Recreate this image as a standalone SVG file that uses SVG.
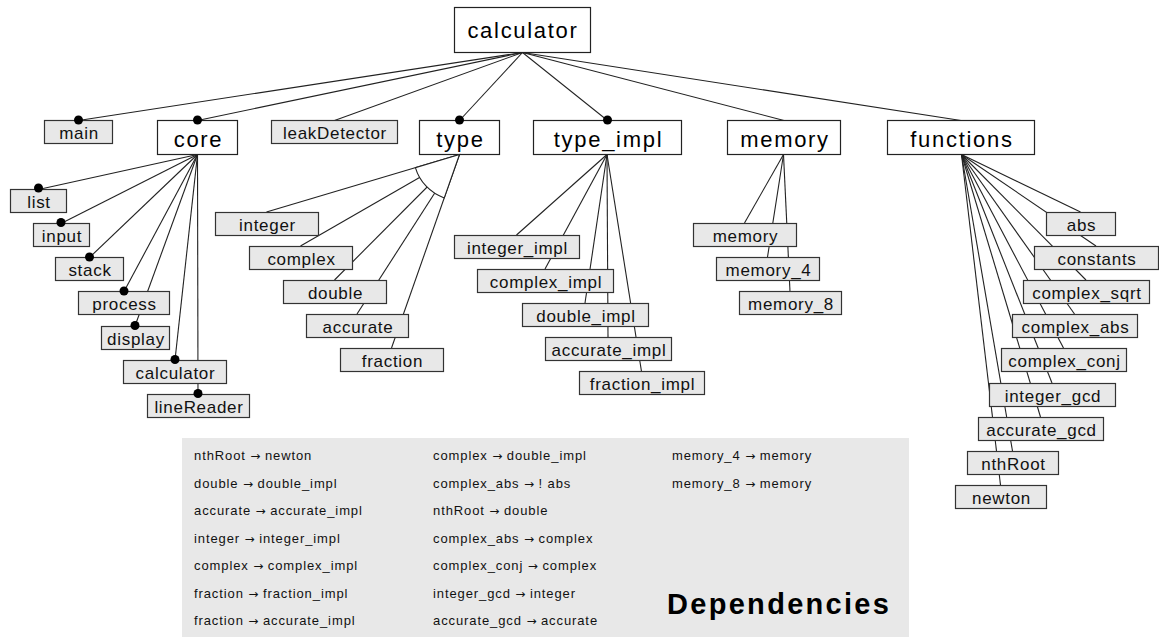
<svg xmlns="http://www.w3.org/2000/svg" width="1159" height="637" viewBox="0 0 1159 637">
<style>
.bg{fill:#ffffff}
.big{fill:#ffffff;stroke:#222;stroke-width:1.2}
.sm{fill:#e8e8e8;stroke:#333;stroke-width:1.2}
.bt{font-family:"Liberation Sans",Arial,sans-serif;font-size:22px;letter-spacing:1.7px;fill:#000;text-anchor:middle}
.st{font-family:"Liberation Sans",Arial,sans-serif;font-size:17px;letter-spacing:0.7px;fill:#111;text-anchor:middle}
.dot{fill:#000}
.con line{stroke:#222;stroke-width:1.1}
.wedge{fill:#fff;stroke:#222;stroke-width:1.1}
.dep{fill:#e8e8e8}
.dt{font-family:"Liberation Sans",Arial,sans-serif;font-size:13px;letter-spacing:0.9px;fill:#111}
.ar{font-family:"DejaVu Sans",sans-serif;font-size:12px;letter-spacing:0}
.title{font-family:"Liberation Sans",Arial,sans-serif;font-size:29px;font-weight:bold;letter-spacing:2.3px;fill:#000}
</style>
<rect class="bg" x="0" y="0" width="1159" height="637"/>
<g id="connectors" class="con">
<line x1="522.5" y1="52.5" x2="78.5" y2="120.5"/>
<line x1="522.5" y1="52.5" x2="197.5" y2="120.5"/>
<line x1="522.5" y1="52.5" x2="334.5" y2="120.5"/>
<line x1="522.5" y1="52.5" x2="459.5" y2="120.5"/>
<line x1="522.5" y1="52.5" x2="607.5" y2="120.5"/>
<line x1="522.5" y1="52.5" x2="784" y2="120.5"/>
<line x1="522.5" y1="52.5" x2="961" y2="120.5"/>
<line x1="197.5" y1="154.5" x2="38.5" y2="189.5"/>
<line x1="197.5" y1="154.5" x2="61" y2="223.5"/>
<line x1="197.5" y1="154.5" x2="89.5" y2="257.5"/>
<line x1="197.5" y1="154.5" x2="124" y2="291.5"/>
<line x1="197.5" y1="154.5" x2="135" y2="326"/>
<line x1="197.5" y1="154.5" x2="175" y2="360"/>
<line x1="197.5" y1="154.5" x2="198" y2="394"/>
<line x1="459.5" y1="154.5" x2="266.5" y2="212"/>
<line x1="459.5" y1="154.5" x2="300.5" y2="246"/>
<line x1="459.5" y1="154.5" x2="334.5" y2="280"/>
<line x1="459.5" y1="154.5" x2="357" y2="314"/>
<line x1="459.5" y1="154.5" x2="391.5" y2="348"/>
<line x1="607" y1="154.5" x2="516.5" y2="235"/>
<line x1="607" y1="154.5" x2="545" y2="269"/>
<line x1="607" y1="154.5" x2="585" y2="303"/>
<line x1="607" y1="154.5" x2="608" y2="337"/>
<line x1="607" y1="154.5" x2="641.5" y2="371.5"/>
<line x1="783.5" y1="154.5" x2="744.5" y2="223"/>
<line x1="783.5" y1="154.5" x2="767.5" y2="257"/>
<line x1="783.5" y1="154.5" x2="790" y2="291.5"/>
<line x1="961.5" y1="154.5" x2="1080.5" y2="212"/>
<line x1="961.5" y1="154.5" x2="1096" y2="246"/>
<line x1="961.5" y1="154.5" x2="1086" y2="280"/>
<line x1="961.5" y1="154.5" x2="1074.5" y2="314"/>
<line x1="961.5" y1="154.5" x2="1063.5" y2="348"/>
<line x1="961.5" y1="154.5" x2="1052" y2="383"/>
<line x1="961.5" y1="154.5" x2="1040.5" y2="417"/>
<line x1="961.5" y1="154.5" x2="1012.5" y2="451"/>
<line x1="961.5" y1="154.5" x2="1000.5" y2="485"/>
</g>
<g id="n-calculator"><rect class="big" x="454.5" y="7.5" width="136" height="45"/><text class="bt" x="523" y="38">calculator</text></g>
<g id="n-main"><rect class="sm" x="44.5" y="120.5" width="68" height="23"/><text class="st" x="79" y="138.5">main</text><circle class="dot" cx="78.5" cy="120" r="4.5"/></g>
<g id="n-core"><rect class="big" x="157.5" y="120.5" width="80" height="34"/><text class="bt" x="198.5" y="146.5">core</text><circle class="dot" cx="197.5" cy="120" r="4.5"/></g>
<g id="n-leakDetector"><rect class="sm" x="271.5" y="120.5" width="126" height="23"/><text class="st" x="335" y="138.5">leakDetector</text></g>
<g id="n-type"><rect class="big" x="419.5" y="120.5" width="80" height="34"/><text class="bt" x="460.5" y="146.5">type</text><circle class="dot" cx="459.5" cy="120" r="4.5"/></g>
<g id="n-type_impl"><rect class="big" x="533.5" y="120.5" width="148" height="34"/><text class="bt" x="608.5" y="146.5">type_impl</text><circle class="dot" cx="607.5" cy="120" r="4.5"/></g>
<g id="n-memory"><rect class="big" x="727.5" y="120.5" width="113" height="34"/><text class="bt" x="785" y="146.5">memory</text></g>
<g id="n-functions"><rect class="big" x="887.5" y="120.5" width="147" height="34"/><text class="bt" x="962" y="146.5">functions</text></g>
<g id="n-list"><rect class="sm" x="10.5" y="189.5" width="56" height="23"/><text class="st" x="39" y="207.5">list</text><circle class="dot" cx="38.5" cy="188" r="4.5"/></g>
<g id="n-input"><rect class="sm" x="33.5" y="223.5" width="56" height="23"/><text class="st" x="62" y="241.5">input</text><circle class="dot" cx="61" cy="222.5" r="4.5"/></g>
<g id="n-stack"><rect class="sm" x="55.5" y="257.5" width="68" height="23"/><text class="st" x="90" y="275.5">stack</text><circle class="dot" cx="89.5" cy="257" r="4.5"/></g>
<g id="n-process"><rect class="sm" x="78.5" y="291.5" width="91" height="23"/><text class="st" x="124.5" y="309.5">process</text><circle class="dot" cx="124" cy="291" r="4.5"/></g>
<g id="n-display"><rect class="sm" x="101.5" y="326.5" width="68" height="23"/><text class="st" x="136" y="344.5">display</text><circle class="dot" cx="135" cy="325.5" r="4.5"/></g>
<g id="n-calculator2"><rect class="sm" x="123.5" y="360.5" width="103" height="23"/><text class="st" x="175.5" y="378.5">calculator</text><circle class="dot" cx="175" cy="359.5" r="4.5"/></g>
<g id="n-lineReader"><rect class="sm" x="147.5" y="394.5" width="102" height="23"/><text class="st" x="199" y="412.5">lineReader</text><circle class="dot" cx="198" cy="393.5" r="4.5"/></g>
<g id="n-integer"><rect class="sm" x="215.5" y="212.5" width="103" height="23"/><text class="st" x="267.5" y="230.5">integer</text></g>
<g id="n-complex"><rect class="sm" x="249.5" y="246.5" width="103" height="23"/><text class="st" x="301.5" y="264.5">complex</text></g>
<g id="n-double"><rect class="sm" x="283.5" y="280.5" width="103" height="23"/><text class="st" x="335.5" y="298.5">double</text></g>
<g id="n-accurate"><rect class="sm" x="306.5" y="314.5" width="102" height="23"/><text class="st" x="358" y="332.5">accurate</text></g>
<g id="n-fraction"><rect class="sm" x="340.5" y="348.5" width="103" height="23"/><text class="st" x="392.5" y="366.5">fraction</text></g>
<g id="alt-group-type"><path class="wedge" d="M459.5,154.5 L415.4,167.6 A46,46 0 0 0 444.25,197.9 Z"/></g>
<g id="n-integer_impl"><rect class="sm" x="454.5" y="235.5" width="125" height="23"/><text class="st" x="517.5" y="253.5">integer_impl</text></g>
<g id="n-complex_impl"><rect class="sm" x="477.5" y="269.5" width="136" height="23"/><text class="st" x="546" y="287.5">complex_impl</text></g>
<g id="n-double_impl"><rect class="sm" x="522.5" y="303.5" width="126" height="23"/><text class="st" x="586" y="321.5">double_impl</text></g>
<g id="n-accurate_impl"><rect class="sm" x="545.5" y="337.5" width="126" height="23"/><text class="st" x="609" y="355.5">accurate_impl</text></g>
<g id="n-fraction_impl"><rect class="sm" x="579.5" y="371.5" width="125" height="23"/><text class="st" x="642.5" y="389.5">fraction_impl</text></g>
<g id="n-memory_1"><rect class="sm" x="693.5" y="223.5" width="103" height="23"/><text class="st" x="745.5" y="241.5">memory</text></g>
<g id="n-memory_4"><rect class="sm" x="716.5" y="257.5" width="103" height="23"/><text class="st" x="768.5" y="275.5">memory_4</text></g>
<g id="n-memory_8"><rect class="sm" x="739.5" y="291.5" width="102" height="23"/><text class="st" x="791" y="309.5">memory_8</text></g>
<g id="n-abs"><rect class="sm" x="1046.5" y="212.5" width="69" height="23"/><text class="st" x="1081.5" y="230.5">abs</text></g>
<g id="n-constants"><rect class="sm" x="1034.5" y="246.5" width="124" height="23"/><text class="st" x="1097" y="264.5">constants</text></g>
<g id="n-complex_sqrt"><rect class="sm" x="1023.5" y="280.5" width="126" height="23"/><text class="st" x="1087" y="298.5">complex_sqrt</text></g>
<g id="n-complex_abs"><rect class="sm" x="1012.5" y="314.5" width="125" height="23"/><text class="st" x="1075.5" y="332.5">complex_abs</text></g>
<g id="n-complex_conj"><rect class="sm" x="1001.5" y="348.5" width="125" height="23"/><text class="st" x="1064.5" y="366.5">complex_conj</text></g>
<g id="n-integer_gcd"><rect class="sm" x="989.5" y="383.5" width="126" height="23"/><text class="st" x="1053" y="401.5">integer_gcd</text></g>
<g id="n-accurate_gcd"><rect class="sm" x="978.5" y="417.5" width="125" height="23"/><text class="st" x="1041.5" y="435.5">accurate_gcd</text></g>
<g id="n-nthRoot"><rect class="sm" x="967.5" y="451.5" width="91" height="23"/><text class="st" x="1013.5" y="469.5">nthRoot</text></g>
<g id="n-newton"><rect class="sm" x="955.5" y="485.5" width="91" height="23"/><text class="st" x="1001.5" y="503.5">newton</text></g>
<g id="dependencies">
<rect class="dep" x="182" y="438" width="727" height="199"/>
<text class="dt" x="194" y="460">nthRoot <tspan class="ar">→</tspan> newton</text>
<text class="dt" x="194" y="487.5">double <tspan class="ar">→</tspan> double_impl</text>
<text class="dt" x="194" y="515">accurate <tspan class="ar">→</tspan> accurate_impl</text>
<text class="dt" x="194" y="542.5">integer <tspan class="ar">→</tspan> integer_impl</text>
<text class="dt" x="194" y="570">complex <tspan class="ar">→</tspan> complex_impl</text>
<text class="dt" x="194" y="597.5">fraction <tspan class="ar">→</tspan> fraction_impl</text>
<text class="dt" x="194" y="625">fraction <tspan class="ar">→</tspan> accurate_impl</text>
<text class="dt" x="433" y="460">complex <tspan class="ar">→</tspan> double_impl</text>
<text class="dt" x="433" y="487.5">complex_abs <tspan class="ar">→</tspan> ! abs</text>
<text class="dt" x="433" y="515">nthRoot <tspan class="ar">→</tspan> double</text>
<text class="dt" x="433" y="542.5">complex_abs <tspan class="ar">→</tspan> complex</text>
<text class="dt" x="433" y="570">complex_conj <tspan class="ar">→</tspan> complex</text>
<text class="dt" x="433" y="597.5">integer_gcd <tspan class="ar">→</tspan> integer</text>
<text class="dt" x="433" y="625">accurate_gcd <tspan class="ar">→</tspan> accurate</text>
<text class="dt" x="672" y="460">memory_4 <tspan class="ar">→</tspan> memory</text>
<text class="dt" x="672" y="487.5">memory_8 <tspan class="ar">→</tspan> memory</text>
<text class="title" x="667" y="614">Dependencies</text>
</g>
</svg>
